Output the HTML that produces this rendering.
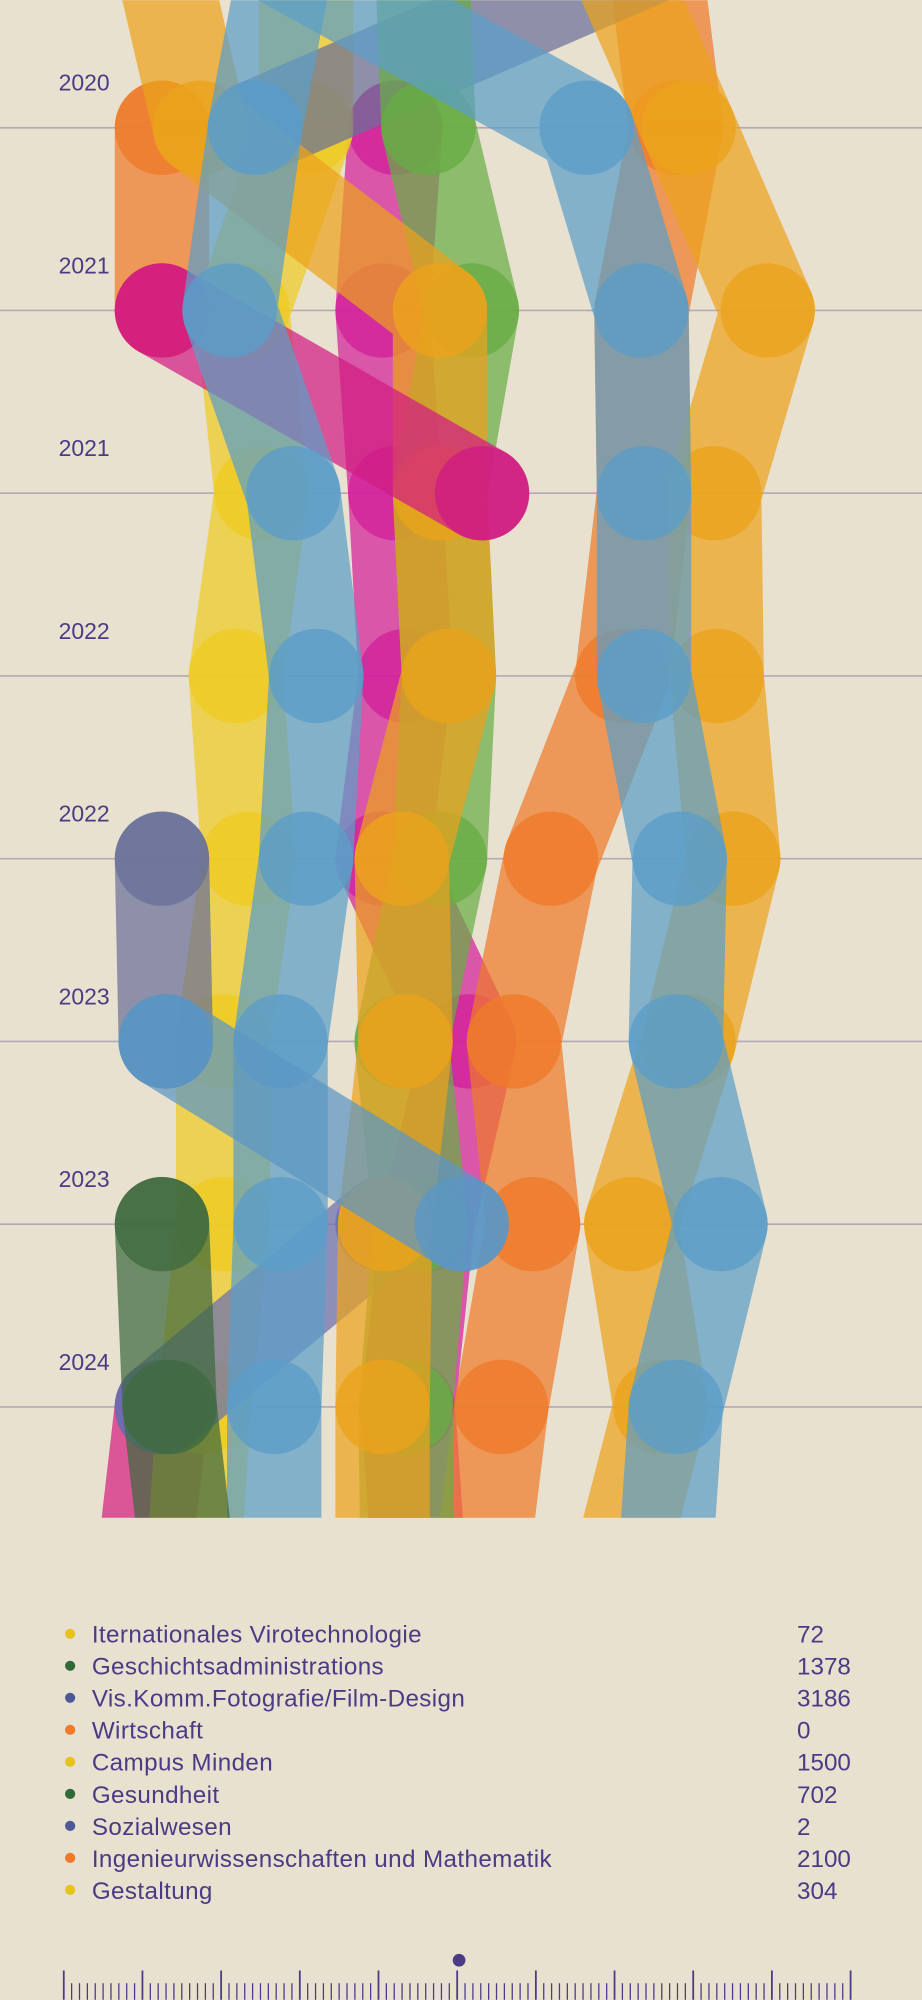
<!DOCTYPE html>
<html><head><meta charset="utf-8"><style>
html,body{margin:0;padding:0;background:#e8e1cf;}
svg{display:block;}
text{font-family:"Liberation Sans",sans-serif;fill:#4b3a86;}
</style></head><body>
<svg id="chart" width="922" height="2000" viewBox="0 0 723 1568" xmlns="http://www.w3.org/2000/svg">
<rect x="0" y="0" width="723" height="1568" fill="#e8e1cf"/>
<defs><clipPath id="clip"><rect x="0" y="0" width="723" height="1190"/></clipPath></defs>
<g id="grid"></g>
<g id="bands" clip-path="url(#clip)"></g>
<g id="legend"></g>
<g id="ruler"></g>
</svg>
<script>
const rowLabels = ["2020","2021","2021","2022","2022","2023","2023","2024"];
// drawing order: first = bottom
const seriesNames = ["magenta-a","magenta-c","orange-brown","orange-right","yellow","slate-top","slate-lower","purple-diag","green","amber-left","magenta-b","blue-left","blue-diag","amber-right","blue-right","dark-green"];
const seriesColors = ["#d2209a","#d6207f","#ee7a2a","#ef7a2a","#eecb22","#6a7099","#6a7099","#6a6fb0","#68ad45","#eba21c","#d11c82","#5b9ec8","#5b96c4","#eba21c","#5b9ec8","#3f6a40"];
// x position per row: [top-extension, row0..row7, bottom-extension]
const seriesX = [
 [null,310,300,310,318,300,368,335,320,330],
 [null,null,null,null,null,null,null,null,127,110],
 [null,127,127,null,null,null,null,null,null,null],
 [510,530,503,505,488,432,403,418,393,375],
 [240,240,190,205,185,195,175,175,160,150],
 [570,200,null,null,null,null,null,null,null,null],
 [null,null,null,null,null,127,130,null,null,null],
 [null,null,null,null,null,null,null,300,127,null],
 [330,336,370,345,352,345,315,330,318,320],
 [120,157,345,345,352,315,318,302,300,300],
 [null,null,127,378,null,null,null,null,null,null],
 [230,200,180,230,248,240,220,220,215,215],
 [null,null,null,null,null,null,130,362,null,null],
 [470,540,602,560,562,575,540,495,518,480],
 [170,460,503,505,505,533,530,565,530,520],
 [null,null,null,null,null,null,null,127,133,150]
];
const legendNames = ["Iternationales Virotechnologie","Geschichtsadministrations","Vis.Komm.Fotografie/Film-Design","Wirtschaft","Campus Minden","Gesundheit","Sozialwesen","Ingenieurwissenschaften und Mathematik","Gestaltung"];
const legendValues = ["72","1378","3186","0","1500","702","2","2100","304"];
const legendColors = ["#e8c21c","#2f6a38","#4a5a96","#ef7a2a","#e8c21c","#2f6a38","#4a5a96","#ef7a2a","#e8c21c"];

const NS="http://www.w3.org/2000/svg";
function mk(t,a,p){const e=document.createElementNS(NS,t);for(const k in a)e.setAttribute(k,a[k]);p.appendChild(e);return e;}
const rowY = i => 100 + i*143.3;
const idxY = j => j===0 ? -60 : (j===9 ? 1250 : rowY(j-1));

const grid=document.getElementById('grid');
rowLabels.forEach((l,i)=>{
  const ln=mk('line',{x1:0,x2:723,y1:rowY(i),y2:rowY(i),stroke:'#b3a8b6','stroke-width':1.3},grid);
  
  
  const t=mk('text',{x:46,y:rowY(i)-29,'font-size':18},grid);t.textContent=l;
  
  
});

const bands=document.getElementById('bands');
seriesX.forEach((xs,s)=>{
  const g=mk('g',{},bands);
  
  
  let pts=[];
  const flush=()=>{ if(pts.length>1){const p=mk('polyline',{points:pts.join(' '),fill:'none',stroke:seriesColors[s],'stroke-width':74,'stroke-linejoin':'round','stroke-linecap':'round',opacity:0.72},g);
    
    } pts=[]; };
  xs.forEach((x,j)=>{ if(x===null){flush();} else pts.push(x+','+idxY(j)); });
  flush();
  xs.forEach((x,j)=>{ if(x!==null && j>0 && j<9){
    const c=mk('circle',{cx:x,cy:idxY(j),r:37,fill:seriesColors[s],opacity:0.8},g);
    
    
  }});
});

const leg=document.getElementById('legend');
legendNames.forEach((n,i)=>{
  const y=1282+i*25.1;
  const d=mk('circle',{cx:55,cy:y-1,r:4,fill:legendColors[i]},leg);
  
  
  const t=mk('text',{x:72,y:y+6,'font-size':19,'letter-spacing':0.3},leg);t.textContent=n;
  
  
  const v=mk('text',{x:625,y:y+6,'font-size':19},leg);v.textContent=legendValues[i];
  
  
});

const ru=document.getElementById('ruler');


for(let k=0;k<=100;k++){
  const x=50+k*6.17, major=k%10===0;
  mk('line',{x1:x,x2:x,y1:major?1545:1555,y2:1568,stroke:'#4b3a86','stroke-width':major?1.4:1},ru);
}
const dot=mk('circle',{cx:360,cy:1537,r:5,fill:'#4b3a86'},ru);


</script>
</body></html>
